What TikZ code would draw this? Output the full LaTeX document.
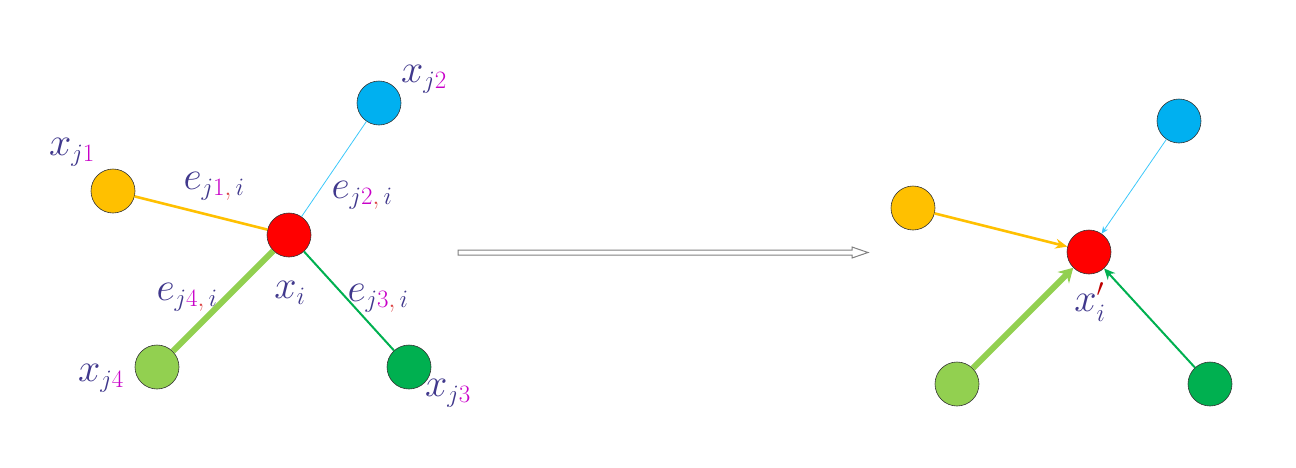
\documentclass[tikz,border=0pt]{standalone}
\usepackage{fix-cm}
\usetikzlibrary{arrows.meta}
\DeclareMathSizes{40}{40}{25}{18}
\definecolor{txt}{RGB}{64,56,140}
\definecolor{dig}{RGB}{200,0,200}
\definecolor{cma}{RGB}{220,70,70}
\definecolor{prm}{RGB}{190,0,0}
\definecolor{cyel}{RGB}{255,192,0}
\definecolor{cblu}{RGB}{0,176,240}
\definecolor{cblul}{RGB}{60,200,250}
\definecolor{cred}{RGB}{255,0,0}
\definecolor{clgr}{RGB}{146,208,80}
\definecolor{cgrn}{RGB}{0,176,80}
\newcommand{\xj}[1]{x_{j\textcolor{dig}{#1}}}
\newcommand{\ej}[1]{e_{j\textcolor{dig}{#1}\textcolor{cma}{,}\,i}}
\begin{document}
\begin{tikzpicture}[x=1pt,y=-1pt,
  ball/.style={circle,draw=black!80,line width=0.6pt,minimum size=44pt,inner sep=0pt},
  lbl/.style={text=txt,font=\fontsize{40}{44}\selectfont,inner sep=0pt},
  yedge/.style={draw=cyel,line width=2.6pt},
  bedge/.style={draw=cblul,line width=0.8pt},
  gedge/.style={draw=cgrn,line width=2pt},
  ledge/.style={draw=clgr,line width=6pt},
  bigarrow/.style={draw=gray,line width=1pt,fill=white}]
\useasboundingbox (0,0) rectangle (1296,467);
% left graph
\node[ball,fill=cyel] (y1) at (113,191) {};
\node[ball,fill=cblu] (b1) at (379,103) {};
\node[ball,fill=cred] (r1) at (289,235) {};
\node[ball,fill=clgr] (l1) at (157,367) {};
\node[ball,fill=cgrn] (g1) at (409,367) {};
\draw[yedge] (y1) -- (r1);
\draw[bedge] (b1) -- (r1);
\draw[gedge] (r1) -- (g1);
\draw[ledge] (l1) -- (r1);
\node[lbl] (lxj1) at (72,152) {$\xj{1}$};
\node[lbl] (lxj2) at (424,79) {$\xj{2}$};
\node[lbl] (lxj3) at (448,393) {$\xj{3}$};
\node[lbl] (lxj4) at (101,378) {$\xj{4}$};
\node[lbl] (lxi) at (290,293) {$x_i$};
\node[lbl] (le1) at (214,186) {$\ej{1}$};
\node[lbl] (le2) at (362,195) {$\ej{2}$};
\node[lbl] (le3) at (378,298) {$\ej{3}$};
\node[lbl] (le4) at (187,297) {$\ej{4}$};
% middle arrow
\draw[bigarrow] (458,250) -- (852,250) -- (852,247) -- (868,252.5) -- (852,258) -- (852,255) -- (458,255) -- cycle;
% right graph
\node[ball,fill=cyel] (y2) at (913,208) {};
\node[ball,fill=cblu] (b2) at (1179,121) {};
\node[ball,fill=cred] (r2) at (1089,252) {};
\node[ball,fill=clgr] (l2) at (957,384) {};
\node[ball,fill=cgrn] (g2) at (1210,384) {};
\draw[yedge,-{Stealth[length=12pt,width=10pt]}] (y2) -- (r2);
\draw[bedge,-{Stealth[length=7pt,width=6pt]}] (b2) -- (r2);
\draw[gedge,-{Stealth[length=11pt,width=10pt]}] (g2) -- (r2);
\draw[ledge,-{Stealth[length=14pt,width=16pt]}] (l2) -- (r2);
\node[lbl] (lxi2) at (1090,302) {$x_i^{\textcolor{prm}{\prime}}$};
\end{tikzpicture}
\end{document}
